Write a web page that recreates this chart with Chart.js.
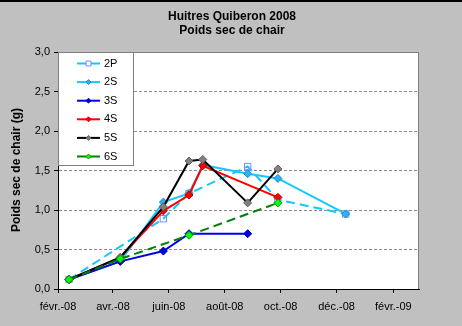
<!DOCTYPE html>
<html>
<head>
<meta charset="utf-8">
<script src="https://cdn.jsdelivr.net/npm/chart.js@4/dist/chart.umd.min.js"></script>
<style>
    html, body { margin: 0; padding: 0; background: #c0c0c0; }
    #wrap { width: 462px; height: 326px; position: relative; }
    #top { position: absolute; left: 0; top: 0; width: 462px; height: 2px; background: #000; }
</style>
</head>
<body>
<div id="wrap">
    <canvas id="myChart" width="462" height="326"></canvas>
    <div id="top"></div>
</div>
<script>
// dates de prélèvement
const dates = ['2008-02-13', '2008-04-09', '2008-05-26', '2008-06-23', '2008-07-08', '2008-08-26', '2008-09-28', '2008-12-11'];

// poids sec de chair (g) par lot
const s2P = [0.12, null, 0.89, 1.21, null, 1.55, 1.13, 0.95];
const s2S = [0.12, 0.35, 1.10, 1.21, 1.57, 1.46, 1.40, 0.95];
const s3S = [0.12, 0.35, 0.48, 0.70, null, 0.70, null, null];
const s4S = [0.12, 0.40, 0.99, 1.19, 1.56, null, 1.16, null];
const s5S = [0.12, 0.40, 1.04, 1.62, 1.64, 1.09, 1.52, null];
const s6S = [0.12, 0.38, null, 0.68, null, null, 1.09, null];

// graduations de l'axe des dates
const tickDates = ['2008-02-01', '2008-04-01', '2008-06-01', '2008-08-01', '2008-10-01', '2008-12-01', '2009-02-01'];
const tickLabels = ['févr.-08', 'avr.-08', 'juin-08', 'août-08', 'oct.-08', 'déc.-08', 'févr.-09'];

const origin = Date.UTC(2008, 1, 1);
function dayOf(s) {
    const [y, m, d] = s.split('-').map(Number);
    return (Date.UTC(y, m - 1, d) - origin) / 86400000;
}
const xDays = dates.map(dayOf);
const tickDays = tickDates.map(dayOf);

function pts(values) {
    return values.map((v, i) => ({ x: xDays[i], y: v }));
}

const FONT = 'Liberation Sans, Arial, sans-serif';

const series = [
    { label: '2P', data: s2P, color: '#14c8ff', dash: [9, 5], style: 'rect', radius: 4.5, fill: 'rgba(0,0,0,0)', border: '#6f8cff', order: 6 },
    { label: '2S', data: s2S, color: '#14c8ff', dash: [], style: 'rectRot', radius: 4, fill: '#30b0f0', border: '#1c8ed0', order: 5 },
    { label: '3S', data: s3S, color: '#0000e6', dash: [], style: 'rectRot', radius: 4, fill: '#0000e6', border: '#0000b0', order: 4 },
    { label: '4S', data: s4S, color: '#ff0000', dash: [], style: 'rectRot', radius: 4, fill: '#ff0000', border: '#c00000', order: 3 },
    { label: '5S', data: s5S, color: '#000000', dash: [], style: 'rectRot', radius: 4, fill: '#808080', border: '#606060', order: 2 },
    { label: '6S', data: s6S, color: '#008000', dash: [9, 5], style: 'rectRot', radius: 4, fill: '#00ff00', border: '#00a000', order: 1 }
];

// fond, titres, légende
const decor = {
    id: 'decor',
    beforeDraw(chart) {
        const { ctx, chartArea: a } = chart;
        ctx.save();
        ctx.fillStyle = '#c0c0c0';
        ctx.fillRect(0, 0, chart.width, chart.height);
        ctx.fillStyle = '#ffffff';
        ctx.fillRect(a.left, a.top, a.right - a.left, a.bottom - a.top);
        ctx.strokeStyle = '#808080';
        ctx.lineWidth = 1;
        ctx.strokeRect(a.left + 0.5, a.top + 0.5, a.right - a.left - 1, a.bottom - a.top);

        ctx.fillStyle = '#000';
        ctx.textAlign = 'center';
        ctx.textBaseline = 'middle';
        ctx.font = 'bold 12px ' + FONT;
        ctx.fillText('Huitres Quiberon 2008', 232, 17);
        ctx.fillText('Poids sec de chair', 232, 31);

        ctx.translate(17, 170);
        ctx.rotate(-Math.PI / 2);
        ctx.fillText('Poids sec de chair (g)', 0, 0);
        ctx.restore();
    },
    afterDraw(chart) {
        const { ctx, chartArea: a } = chart;
        ctx.save();
        ctx.fillStyle = '#ffffff';
        ctx.fillRect(a.left + 1, a.top + 1, 74, 112);
        ctx.strokeStyle = '#808080';
        ctx.lineWidth = 1;
        ctx.strokeRect(a.left + 0.5, a.top + 0.5, 75, 113);
        ctx.font = '11px ' + FONT;
        ctx.textAlign = 'left';
        ctx.textBaseline = 'middle';
        series.forEach((s, i) => {
            const y = a.top + 11.5 + i * 18.6;
            ctx.strokeStyle = s.color;
            ctx.lineWidth = 2;
            ctx.setLineDash([]);
            ctx.beginPath();
            ctx.moveTo(77, y);
            ctx.lineTo(100, y);
            ctx.stroke();
            ctx.fillStyle = s.style === 'rect' ? '#ffffff' : s.fill;
            ctx.strokeStyle = s.border;
            ctx.lineWidth = 1;
            Chart.helpers.drawPoint(ctx, { pointStyle: s.style, radius: s.style === 'rect' ? 3.5 : 2.5, rotation: 0, borderWidth: 1 }, 88.5, y);
            ctx.fillStyle = '#000';
            ctx.fillText(s.label, 104, y);
        });
        ctx.restore();
    }
};

const ctx = document.getElementById('myChart').getContext('2d');
const myChart = new Chart(ctx, {
    type: 'line',
    data: {
        datasets: series.map(s => ({
            label: s.label,
            data: pts(s.data),
            borderColor: s.color,
            borderWidth: 2,
            borderDash: s.dash,
            pointStyle: s.style,
            pointRadius: s.radius,
            pointBackgroundColor: s.fill,
            pointBorderColor: s.border,
            pointBorderWidth: 1,
            spanGaps: true,
            tension: 0,
            order: s.order
        }))
    },
    options: {
        responsive: false,
        animation: false,
        layout: { padding: { top: 52, right: 43, left: 0, bottom: 0 } },
        plugins: {
            legend: { display: false },
            tooltip: { enabled: false }
        },
        scales: {
            x: {
                type: 'linear',
                min: 0,
                max: 394,
                afterBuildTicks: scale => { scale.ticks = tickDays.map(v => ({ value: v })); },
                afterFit: scale => { scale.height = 37; },
                ticks: {
                    color: '#000',
                    font: { family: FONT, size: 11 },
                    padding: 7,
                    maxRotation: 0,
                    autoSkip: false,
                    callback: v => tickLabels[tickDays.indexOf(v)]
                },
                grid: { drawOnChartArea: false, tickLength: 4, tickColor: '#000' },
                border: { color: '#000', width: 1 }
            },
            y: {
                min: 0,
                max: 3,
                afterFit: scale => { scale.width = 58; },
                ticks: {
                    stepSize: 0.5,
                    color: '#000',
                    font: { family: FONT, size: 11 },
                    padding: 4,
                    callback: v => v.toFixed(1).replace('.', ',')
                },
                grid: {
                    color: c => (c.tick && (c.tick.value === 0 || c.tick.value === 3)) ? 'rgba(0,0,0,0)' : '#8c8c8c',
                    tickLength: 4,
                    tickColor: '#000'
                },
                border: { color: '#000', width: 1, dash: [3, 2] }
            }
        }
    },
    plugins: [decor]
});
</script>
</body>
</html>
